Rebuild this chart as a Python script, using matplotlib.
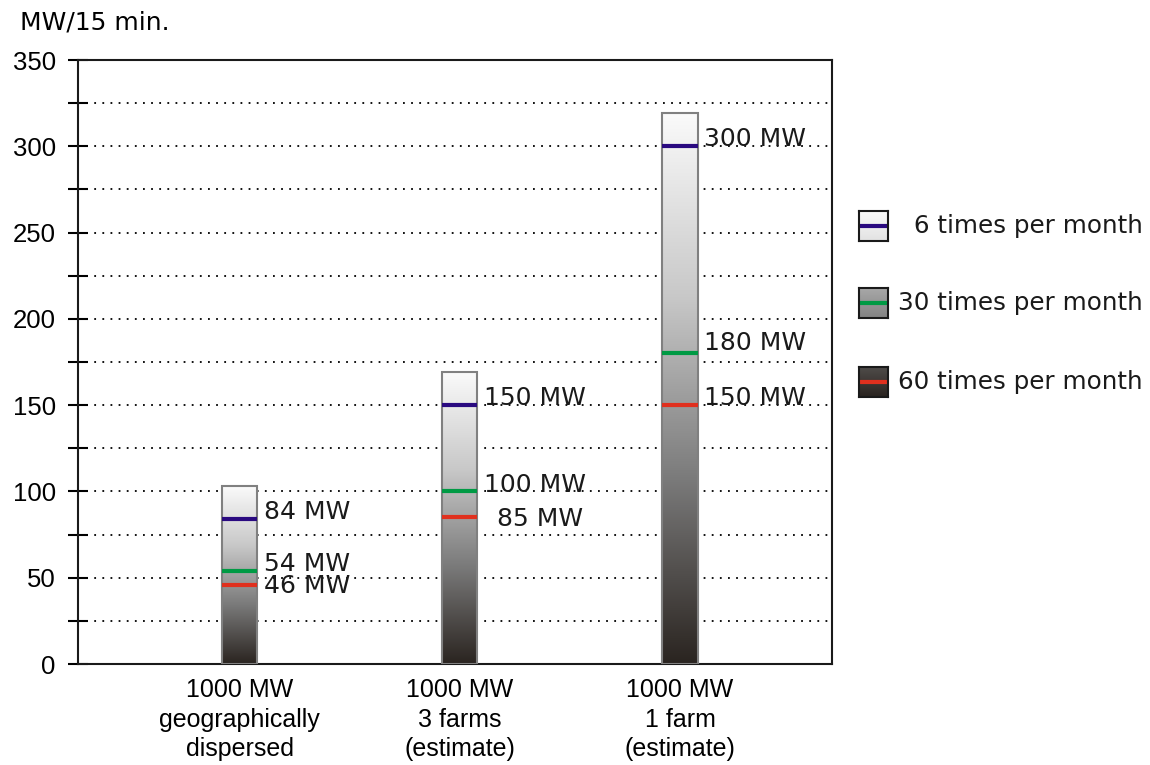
import numpy as np
import matplotlib.pyplot as plt
from matplotlib.colors import LinearSegmentedColormap
from matplotlib.patches import Rectangle

plt.rcParams['font.family'] = ['Liberation Sans', 'DejaVu Sans']

# data
categories = ["1000 MW\ngeographically\ndispersed", "1000 MW\n3 farms\n(estimate)", "1000 MW\n1 farm\n(estimate)"]
bar_tops = [103, 169, 319]
six_per_month = [84, 150, 300]
thirty_per_month = [54, 100, 180]
sixty_per_month = [46, 85, 150]
legend_labels = [" 6 times per month", "30 times per month", "60 times per month"]
line_colors = ["#2a0a80", "#009a44", "#e0301e"]

cmap = LinearSegmentedColormap.from_list("grad", ["#2a2420", "#7a7a7a", "#c8c8c8", "#fafafa"])
wide = 'DejaVu Sans'

fig = plt.figure(figsize=(11.5, 7.65), dpi=100)
ax = fig.add_axes([78/1150, 101/765, 754/1150, 604/765])

x = np.arange(1, 4)
w = 0.16
grad = np.linspace(0, 1, 256).reshape(-1, 1)

for i in range(3):
    ax.imshow(grad, cmap=cmap, origin='lower', aspect='auto',
              extent=[x[i]-w/2, x[i]+w/2, 0, bar_tops[i]], zorder=3)
    ax.add_patch(Rectangle((x[i]-w/2, 0), w, bar_tops[i], fill=False,
                           edgecolor='#808080', lw=1.5, zorder=4))
    vals = [six_per_month[i], thirty_per_month[i], sixty_per_month[i]]
    for v, c in zip(vals, line_colors):
        ax.plot([x[i]-w/2, x[i]+w/2], [v, v], color=c, lw=3, zorder=5,
                solid_capstyle='butt')

# value labels (small nudges to match the reference layout)
lab = dict(fontsize=18, va='center', zorder=6, family=wide, color='#1a1a1a')
ax.text(x[0]+w/2+0.03, 84+4, "84 MW", **lab)
ax.text(x[0]+w/2+0.03, 54+4, "54 MW", **lab)
ax.text(x[0]+w/2+0.03, 46-1, "46 MW", **lab)
ax.text(x[1]+w/2+0.03, 150+4, "150 MW", **lab)
ax.text(x[1]+w/2+0.03, 100+4, "100 MW", **lab)
ax.text(x[1]+w/2+0.09, 85-1, "85 MW", **lab)
ax.text(x[2]+w/2+0.03, 300+4, "300 MW", **lab)
ax.text(x[2]+w/2+0.03, 180+6, "180 MW", **lab)
ax.text(x[2]+w/2+0.03, 150+4, "150 MW", **lab)

ax.set_xlim(0.266, 3.69)
ax.set_ylim(0, 350)
ax.set_yticks(np.arange(0, 351, 50))
ax.set_yticks(np.arange(25, 350, 50), minor=True)
ax.tick_params(axis='y', which='both', direction='inout', length=14, width=1.5,
               labelsize=18.5, pad=9)
ax.set_xticks(x)
ax.set_xticklabels(categories, fontsize=18, linespacing=1.3)
ax.tick_params(axis='x', length=0, pad=10)
ax.yaxis.grid(True, which='both', linestyle=(0, (1, 3.5)), color='black', lw=1.3)
ax.set_axisbelow(True)
for s in ax.spines.values():
    s.set_linewidth(1.5)
    s.set_color('#1a1a1a')

fig.text(20/1150, 1 - 23/765, "MW/15 min.", fontsize=18, va='center', family=wide)

# legend, drawn by hand
box_levels = [0.92, 0.45, 0.08]
for k, yp in enumerate([226, 303, 382]):
    yc = 1 - yp/765
    lax = fig.add_axes([859/1150, yc - 15/765, 29/1150, 30/765])
    g = np.linspace(box_levels[k]-0.08, box_levels[k]+0.08, 64).reshape(-1, 1)
    lax.imshow(g, cmap=cmap, vmin=0, vmax=1, origin='lower', aspect='auto', extent=[0, 1, 0, 1])
    lax.plot([0, 1], [0.5, 0.5], color=line_colors[k], lw=3, solid_capstyle='butt')
    lax.set_xlim(0, 1)
    lax.set_ylim(0, 1)
    lax.set_xticks([])
    lax.set_yticks([])
    for s in lax.spines.values():
        s.set_linewidth(1.5)
        s.set_color('#1a1a1a')
    fig.text(1143/1150, yc, legend_labels[k], fontsize=17.7, ha='right', va='center',
             family=wide, color='#1a1a1a')

fig.savefig("out.png", dpi=100)
